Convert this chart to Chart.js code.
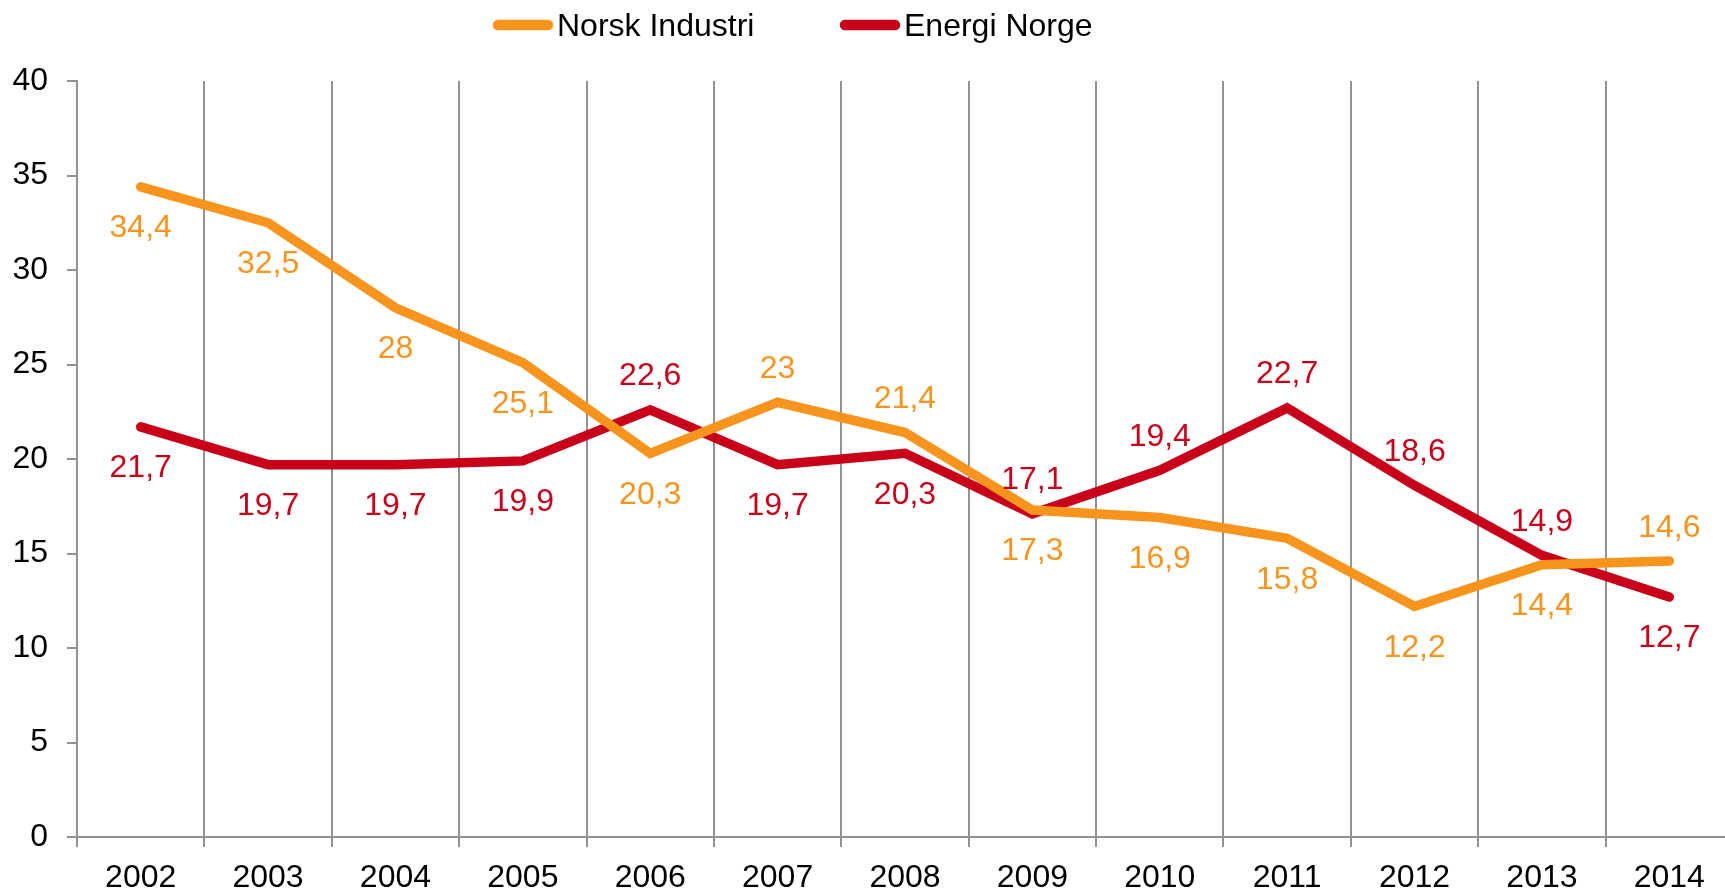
<!DOCTYPE html>
<html>
<head>
<meta charset="utf-8">
<script src="https://cdn.jsdelivr.net/npm/chart.js@4.4.0/dist/chart.umd.min.js"></script>
<style>
html,body{margin:0;padding:0;background:#fff;overflow:hidden;width:1725px;height:890px;}
#wrap{width:1725px;height:890px;overflow:hidden;position:relative;}
canvas{display:block;}
</style>
</head>
<body>
<div id="wrap"><canvas id="c" width="1733" height="890"></canvas></div>
<script>
const categories = ['2002','2003','2004','2005','2006','2007','2008','2009','2010','2011','2012','2013','2014'];
const norskIndustri = [34.4, 32.5, 28, 25.1, 20.3, 23, 21.4, 17.3, 16.9, 15.8, 12.2, 14.4, 14.6];
const energiNorge = [21.7, 19.7, 19.7, 19.9, 22.6, 19.7, 20.3, 17.1, 19.4, 22.7, 18.6, 14.9, 12.7];
const norskLabelPos = ['below','below','below','below','below','above','above','below','below','below','below','below','above'];
const energiLabelPos = ['below','below','below','below','above','below','below','above','above','above','above','above','below'];
const seriesNames = ['Norsk Industri', 'Energi Norge'];
const yTicks = {min: 0, max: 40, step: 5};

const ORANGE = 'rgb(247,148,30)';
const RED = 'rgb(200,0,26)';
const GRID = '#929292';
const FONT = '"Liberation Sans", Arial, sans-serif';
const FS = 32;

const labelPlugin = {
  id: 'valueLabels',
  afterDatasetsDraw(chart) {
    const ctx = chart.ctx;
    ctx.save();
    ctx.font = FS + 'px ' + FONT;
    ctx.textAlign = 'center';
    ctx.textBaseline = 'alphabetic';
    chart.data.datasets.forEach((ds, di) => {
      const meta = chart.getDatasetMeta(di);
      const pos = di === 0 ? norskLabelPos : energiLabelPos;
      ctx.fillStyle = ds.borderColor;
      meta.data.forEach((pt, i) => {
        const v = ds.data[i];
        const txt = String(v).replace('.', ',');
        const cy = pos[i] === 'above' ? pt.y - 36 : pt.y + 39;
        ctx.fillText(txt, pt.x, cy + 0.358 * FS);
      });
    });
    ctx.restore();
  }
};

const legendPlugin = {
  id: 'customLegend',
  afterDraw(chart) {
    const ctx = chart.ctx;
    const items = [
      {x: 493, color: ORANGE, text: seriesNames[0]},
      {x: 840, color: RED, text: seriesNames[1]}
    ];
    ctx.save();
    items.forEach(it => {
      ctx.strokeStyle = it.color;
      ctx.lineWidth = 10.5;
      ctx.lineCap = 'round';
      ctx.beginPath();
      ctx.moveTo(it.x + 5, 25);
      ctx.lineTo(it.x + 60 - 5, 25);
      ctx.stroke();
      ctx.fillStyle = '#000';
      ctx.font = '32px ' + FONT;
      ctx.textAlign = 'left';
      ctx.textBaseline = 'alphabetic';
      ctx.fillText(it.text, it.x + 64, 36);
    });
    ctx.restore();
  }
};

new Chart(document.getElementById('c'), {
  type: 'line',
  data: {
    labels: categories,
    datasets: [
      {label: seriesNames[0], data: norskIndustri, borderColor: ORANGE, backgroundColor: ORANGE,
       borderWidth: 9.5, pointRadius: 0, tension: 0, borderCapStyle: 'round', borderJoinStyle: 'miter'},
      {label: seriesNames[1], data: energiNorge, borderColor: RED, backgroundColor: RED,
       borderWidth: 9.5, pointRadius: 0, tension: 0, borderCapStyle: 'round', borderJoinStyle: 'miter'}
    ]
  },
  options: {
    responsive: false,
    animation: false,
    devicePixelRatio: 1,
    layout: {padding: {top: 81, left: 0, right: 0, bottom: 0}},
    plugins: {legend: {display: false}, tooltip: {enabled: false}},
    scales: {
      x: {
        offset: true,
        grid: {offset: true, color: GRID, lineWidth: 2, tickLength: 10, drawTicks: true},
        border: {display: true, color: GRID, width: 2},
        ticks: {color: '#000', font: {family: FONT, size: FS}, padding: 12, maxRotation: 0, autoSkip: false},
        afterFit(s) { s.height = 53; }
      },
      y: {
        min: yTicks.min, max: yTicks.max,
        grid: {drawOnChartArea: false, color: GRID, lineWidth: 2, tickLength: 10},
        border: {display: true, color: GRID, width: 2},
        ticks: {stepSize: yTicks.step, color: '#000', font: {family: FONT, size: FS}, padding: 19},
        afterFit(s) { s.width = 77; }
      }
    }
  },
  plugins: [labelPlugin, legendPlugin]
});
</script>
</body>
</html>
